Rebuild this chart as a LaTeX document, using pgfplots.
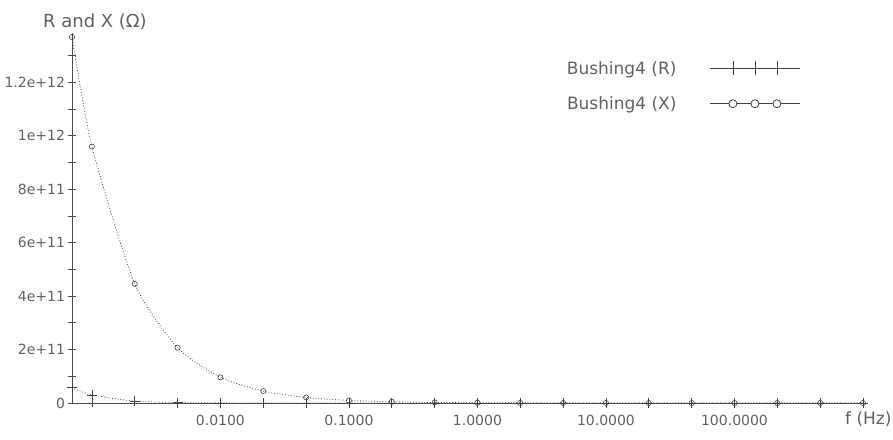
\documentclass[border=0pt]{standalone}
\usepackage{fontspec}
\setmainfont{DejaVu Sans}
\usepackage{pgfplots}
\pgfplotsset{compat=1.18}
\definecolor{txt}{gray}{0.38}
\definecolor{ax}{gray}{0.30}
\definecolor{ln}{gray}{0.25}
\begin{document}
\begin{tikzpicture}
\begin{axis}[
  name=ax,
  scale only axis,
  width=791bp, height=370bp,
  xmode=log,
  xmin=7e-4, xmax=1000,
  ymin=0, ymax=1.385e12,
  axis x line=bottom, axis y line=left,
  axis line style={-, ax, line width=0.8pt},
  tick style={ax, line width=0.8pt},
  tick align=center,
  major tick length=9bp,
  minor tick length=9bp,
  xtick={0.001,0.01,0.1,1,10,100,1000},
  xticklabels={,0.0100,0.1000,1.0000,10.0000,100.0000,},
  xminorticks=false,
  ytick={0,2e11,4e11,6e11,8e11,1e12,1.2e12},
  yticklabels={0,2e+11,4e+11,6e+11,8e+11,1e+12,1.2e+12},
  minor ytick={1e11,3e11,5e11,7e11,9e11,1.1e12,1.3e12},
  scaled y ticks=false,
  tick label style={font=\fontsize{14bp}{16bp}\selectfont, text=txt},
  xticklabel style={yshift=-4bp},
  yticklabel style={xshift=1bp},
  /pgf/number format/assume math mode=true,
  clip=false,
  legend plot pos=right,
  legend cell align=right,
  legend style={draw=none, fill=none, at={(0.921,0.93)}, anchor=north east,
    font=\fontsize{17bp}{19bp}\selectfont, text=txt,
    row sep=17bp, column sep=31bp, inner sep=0pt,
    nodes={inner sep=2bp}},
]
\addplot[ln, dotted, line width=0.8pt, smooth, tension=0.4,
  mark=+, mark size=5bp, mark options={solid, line width=0.6pt},
  legend image code/.code={
    \draw[ln, solid, line width=0.8pt] (0bp,0bp) -- (90bp,0bp);
    \foreach \xx in {23,45,67}{\draw[ln, solid, line width=0.8pt] (\xx bp,-7bp) -- (\xx bp,7bp);}
  }] coordinates {
  (0.0007,5.8e10) (0.001,3.0e10) (0.002154,7.0e9) (0.004642,1.8e9)
  (0.01,5.0e8) (0.02154,1.3e8) (0.04642,4.0e7) (0.1,1.5e7)
  (0.2154,6.0e6) (0.4642,3.0e6) (1,1.5e6) (2.154,8.0e5) (4.642,5.0e5)
  (10,3.0e5) (21.54,2.0e5) (46.42,1.5e5) (100,1.0e5) (215.4,8.0e4)
  (464.2,6.0e4) (1000,5.0e4)
};
\addlegendentry{Bushing4 (R)}
\addplot[ln, dotted, line width=0.8pt, smooth, tension=0.4,
  mark=o, mark size=2.6bp, mark options={solid, line width=0.6pt, fill=white},
  legend image code/.code={
    \draw[ln, solid, line width=0.8pt] (0bp,0bp) -- (90bp,0bp);
    \foreach \xx in {23,45,67}{\draw[ln, solid, line width=0.8pt, fill=white] (\xx bp,0bp) circle (4bp);}
  }] coordinates {
  (0.0007,1.37e12) (0.001,9.6e11) (0.002154,4.46e11) (0.004642,2.07e11)
  (0.01,9.6e10) (0.02154,4.46e10) (0.04642,2.07e10) (0.1,9.6e9)
  (0.2154,4.46e9) (0.4642,2.07e9) (1,9.6e8) (2.154,4.46e8) (4.642,2.07e8)
  (10,9.6e7) (21.54,4.46e7) (46.42,2.07e7) (100,9.6e6) (215.4,4.46e6)
  (464.2,2.07e6) (1000,9.6e5)
};
\addlegendentry{Bushing4 (X)}
\node[anchor=base, text=txt, font=\fontsize{18bp}{20bp}\selectfont] at (rel axis cs:0.029,1.016) {R and X (Ω)};
\node[anchor=base west, text=txt, font=\fontsize{17bp}{19bp}\selectfont] at (rel axis cs:0.973,-0.057) {f (Hz)};
\end{axis}
\pgfresetboundingbox
\path[use as bounding box] ([shift={(-72bp,-37bp)}]ax.south west) rectangle ([shift={(30bp,33bp)}]ax.north east);
\end{tikzpicture}
\end{document}
